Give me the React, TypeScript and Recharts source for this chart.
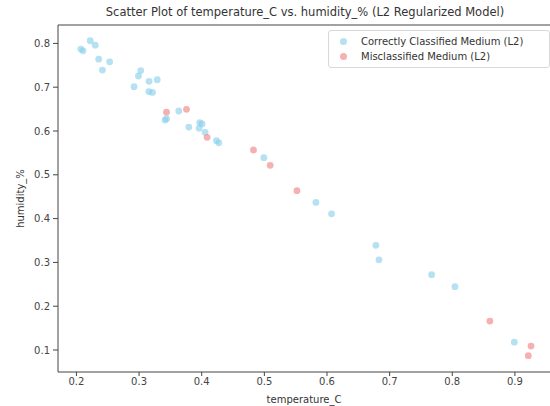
import React from 'react';
import {
  ScatterChart,
  Scatter,
  XAxis,
  YAxis,
  ReferenceLine,
} from 'recharts';

// temperature_C / humidity_% pairs
const correctTemp = [
  0.207, 0.2105, 0.222, 0.23, 0.2356, 0.253, 0.2415, 0.3027, 0.299, 0.316, 0.329,
  0.292, 0.3155, 0.3214, 0.3634, 0.3438, 0.3415, 0.3794, 0.397, 0.4006, 0.3958,
  0.4054, 0.4236, 0.4273, 0.4992, 0.5823, 0.6073, 0.678, 0.683, 0.767, 0.8043, 0.899,
];
const correctHumidity = [
  0.787, 0.783, 0.806, 0.796, 0.764, 0.758, 0.739, 0.738, 0.7256, 0.7135, 0.717,
  0.701, 0.69, 0.688, 0.6457, 0.628, 0.625, 0.609, 0.619, 0.616, 0.606,
  0.597, 0.578, 0.573, 0.539, 0.437, 0.411, 0.339, 0.306, 0.272, 0.2445, 0.118,
];
const missTemp = [0.3438, 0.3757, 0.4086, 0.4827, 0.5093, 0.552, 0.86, 0.9257, 0.9214];
const missHumidity = [0.643, 0.6495, 0.5856, 0.5566, 0.5217, 0.4637, 0.166, 0.109, 0.087];

const xTicks = [0.2, 0.3, 0.4, 0.5, 0.6, 0.7, 0.8, 0.9];
const yTicks = [0.1, 0.2, 0.3, 0.4, 0.5, 0.6, 0.7, 0.8];

const X_DOMAIN: [number, number] = [0.1706, 0.956];
const Y_DOMAIN: [number, number] = [0.0498, 0.842];

const BLUE = '#87CEEB';
const RED = '#F08080';
const FONT = '"DejaVu Sans", sans-serif';

const correctData = correctTemp.map((x, i) => ({ x, y: correctHumidity[i] }));
const missData = missTemp.map((x, i) => ({ x, y: missHumidity[i] }));

const legendItems = [
  { label: 'Correctly Classified Medium (L2)', color: BLUE },
  { label: 'Misclassified Medium (L2)', color: RED },
];

const dot = (color: string) => (props: any) => (
  <circle cx={props.cx} cy={props.cy} r={3.4} fill={color} fillOpacity={0.62} />
);

const LegendBox = () => (
  <div
    style={{
      position: 'absolute',
      top: 30,
      left: 328,
      width: 222,
      boxSizing: 'border-box',
      border: '1px solid #d8d8d8',
      borderRadius: 3,
      background: 'rgba(255,255,255,0.85)',
      padding: '3px 0 3px 11px',
      fontFamily: FONT,
      fontSize: 10,
      color: '#333',
      lineHeight: '15px',
    }}
  >
    {legendItems.map((item) => (
      <div key={item.label} style={{ display: 'flex', alignItems: 'center' }}>
        <span
          style={{
            display: 'inline-block',
            width: 7,
            height: 7,
            borderRadius: '50%',
            background: item.color,
            opacity: 0.62,
            marginRight: 14,
          }}
        />
        <span>{item.label}</span>
      </div>
    ))}
  </div>
);

export default function App() {
  return (
    <div
      style={{
        position: 'absolute',
        left: 0,
        top: 0,
        width: 550,
        height: 406,
        background: '#fff',
        overflow: 'hidden',
      }}
    >
      <div
        style={{
          position: 'absolute',
          left: 58,
          width: 494,
          top: 5,
          textAlign: 'center',
          fontFamily: FONT,
          fontSize: 11.5,
          color: '#333',
        }}
      >
        Scatter Plot of temperature_C vs. humidity_% (L2 Regularized Model)
      </div>
      <ScatterChart
        width={550}
        height={406}
        margin={{ top: 25, right: 0, bottom: 0, left: 0 }}
      >
        <XAxis
          type="number"
          dataKey="x"
          domain={X_DOMAIN}
          allowDataOverflow
          ticks={xTicks}
          tickFormatter={(v: number) => v.toFixed(1)}
          height={34}
          tickSize={4}
          tickMargin={2}
          stroke="#444"
          tick={{ fill: '#444', fontSize: 10, fontFamily: FONT }}
          label={{
            value: 'temperature_C',
            position: 'insideBottom',
            offset: 3,
            style: { fill: '#333', fontSize: 10, fontFamily: FONT },
          }}
        />
        <YAxis
          type="number"
          dataKey="y"
          domain={Y_DOMAIN}
          allowDataOverflow
          ticks={yTicks}
          tickFormatter={(v: number) => v.toFixed(1)}
          width={58}
          tickSize={5}
          tickMargin={3}
          stroke="#444"
          tick={{ fill: '#444', fontSize: 10, fontFamily: FONT }}
          label={{
            value: 'humidity_%',
            angle: -90,
            position: 'insideLeft',
            offset: 20,
            style: { fill: '#333', fontSize: 10, fontFamily: FONT, textAnchor: 'middle' },
          }}
        />
        <ReferenceLine y={Y_DOMAIN[1]} stroke="#444" />
        <Scatter
          name="Correctly Classified Medium (L2)"
          data={correctData}
          shape={dot(BLUE)}
          isAnimationActive={false}
        />
        <Scatter
          name="Misclassified Medium (L2)"
          data={missData}
          shape={dot(RED)}
          isAnimationActive={false}
        />
      </ScatterChart>
      <LegendBox />
    </div>
  );
}
